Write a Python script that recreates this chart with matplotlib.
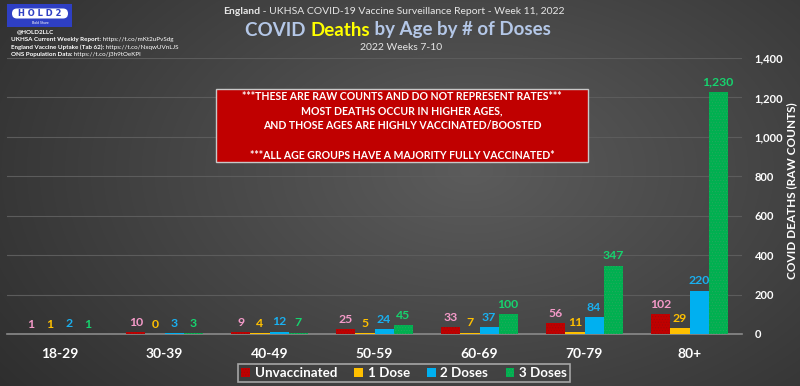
import numpy as np
import matplotlib
matplotlib.use("Agg")
import matplotlib.pyplot as plt
from matplotlib.patches import Rectangle, FancyBboxPatch
from matplotlib.ticker import FuncFormatter

plt.rcParams['font.family'] = ['Lato', 'DejaVu Sans']
plt.rcParams['hatch.linewidth'] = 0.35

age_groups = ["18-29", "30-39", "40-49", "50-59", "60-69", "70-79", "80+"]
unvaccinated = [1, 10, 9, 25, 33, 56, 102]
one_dose = [1, 0, 4, 5, 7, 11, 29]
two_doses = [2, 3, 12, 24, 37, 84, 220]
three_doses = [1, 3, 7, 45, 100, 347, 1230]
series_names = ["Unvaccinated", "1 Dose", "2 Doses", "3 Doses"]
y_ticks = [0, 200, 400, 600, 800, 1000, 1200, 1400]

bar_colors = ["#c00000", "#ffc000", "#00b0f0", "#00b050"]
label_colors = ["#f49ac8", "#ffc000", "#1ab0f0", "#16d36e"]
hatches = ["......", None, None, "......"]
hatch_edge = ["#9a0a0a", None, None, "#2aa860"]

W, H = 800, 386
fig = plt.figure(figsize=(8, 3.86), dpi=100)

# background gradient
bg = fig.add_axes([0, 0, 1, 1])
yy, xx = np.mgrid[0:H, 0:W]
d = np.sqrt(((xx - 470) / 520.0) ** 2 + ((yy - 170) / 330.0) ** 2)
v = np.clip(0.36 - 0.16 * d, 0.17, 0.36)
bg.imshow(np.dstack([v, v, v]), extent=[0, W, H, 0], aspect='auto')
bg.set_xlim(0, W)
bg.set_ylim(H, 0)
bg.axis('off')

ax = fig.add_axes([7 / W, (H - 334) / H, 735 / W, 276 / H])
ax.set_facecolor('none')
x = np.arange(len(age_groups))
bw = 0.182
data = [unvaccinated, one_dose, two_doses, three_doses]
for i, vals in enumerate(data):
    pos = x + (i - 1.5) * bw
    ax.bar(pos, vals, width=bw, color=bar_colors[i], label=series_names[i],
           hatch=hatches[i], edgecolor=hatch_edge[i] if hatches[i] else bar_colors[i],
           linewidth=0, zorder=3)
    for p, val in zip(pos, vals):
        ax.annotate(f"{val:,}", (p, val), xytext=(0, 3), textcoords='offset points',
                    ha='center', va='bottom', color=label_colors[i], fontsize=8.8,
                    fontweight='bold', zorder=4)

ax.set_xlim(-0.5, len(age_groups) - 0.5)
ax.set_ylim(0, 1400)
ax.set_yticks(y_ticks)
ax.yaxis.set_major_formatter(FuncFormatter(lambda v, p: f"{int(v):,}"))
ax.yaxis.tick_right()
ax.tick_params(axis='y', length=0, pad=9, labelcolor='white', labelsize=8)
for lab in ax.get_yticklabels():
    lab.set_fontweight('bold')
ax.set_xticks(x)
ax.set_xticklabels(age_groups, fontsize=10, fontweight='bold', color='white')
ax.tick_params(axis='x', length=0, pad=10)
ax.grid(axis='y', color='#5c5c5c', linewidth=0.8, zorder=0)
for s in ['top', 'left', 'right']:
    ax.spines[s].set_visible(False)
ax.spines['bottom'].set_color('#8a8a8a')
ax.spines['bottom'].set_linewidth(1.2)

leg = fig.legend(loc='center', bbox_to_anchor=(404 / W, (H - 373) / H), ncol=4,
                 frameon=True, fontsize=9.6, handlelength=0.65, handleheight=0.65,
                 handletextpad=0.35, columnspacing=1.3, borderpad=0.25)
leg.get_frame().set_facecolor('none')
leg.get_frame().set_edgecolor('#bfbfbf')
leg.get_frame().set_linewidth(1.2)
leg.get_frame().set_boxstyle('square', pad=0.0)
for t in leg.get_texts():
    t.set_color('white')
    t.set_fontweight('bold')

# overlay for annotations
ov = fig.add_axes([0, 0, 1, 1])
ov.set_xlim(0, W)
ov.set_ylim(H, 0)
ov.axis('off')
ov.patch.set_visible(False)

ov.text(792, 191, "COVID DEATHS (RAW COUNTS)", color='white', fontsize=8.5,
        fontweight='bold', rotation=90, ha='center', va='center')

# Header texts
t0 = ov.text(223, 11, "England", color='#e6e6e6', fontsize=7.5, fontweight='bold',
             ha='left', va='center')
ov.annotate(" - UKHSA COVID-19 Vaccine Surveillance Report - Week 11, 2022",
            xy=(1, 0.5), xycoords=t0, ha='left', va='center', color='#e6e6e6', fontsize=7.5)
tm = ov.text(340, 30, "Deaths", color='#ffff00', fontsize=13.5, fontweight='bold',
             ha='center', va='center')
ov.annotate("COVID ", xy=(0, 0.5), xycoords=tm, ha='right', va='center',
            color='#b4c7e7', fontsize=13.5, fontweight='bold')
ov.annotate(" by Age by # of Doses", xy=(1, 0.5), xycoords=tm, ha='left', va='center',
            color='#b4c7e7', fontsize=13.5, fontweight='bold')
ov.text(401, 47, "2022 Weeks 7-10", color='#e6e6e6', fontsize=7.5, ha='center', va='center')

# Logo
ov.add_patch(Rectangle((7, 4), 65, 23, facecolor='#2e3fc4', edgecolor='none'))
ov.add_patch(FancyBboxPatch((12, 8.5), 56, 10, boxstyle='round,pad=0,rounding_size=5',
                            facecolor='white', edgecolor='none'))
ov.text(40, 13.6, "H O L D 2", color='#2e3fc4', fontsize=6, fontweight='bold',
        ha='center', va='center', family='DejaVu Sans')
ov.text(40, 23.5, "Bold Share", color='white', fontsize=2.5, ha='center', va='center')
ov.text(17, 31.5, "@HOLD2LLC", color='white', fontsize=4.5, fontweight='bold',
        ha='left', va='center')
info = [("UKHSA Current Weekly Report:", " https://t.co/mKt2uPvSdg"),
        ("England Vaccine Uptake (Tab 62):", " https://t.co/NxqwUVnLJS"),
        ("ONS Population Data:", " https://t.co/j3h9tOeKPl")]
for k, (b, u) in enumerate(info):
    tb = ov.text(11, 39.5 + k * 7.5, b, color='white', fontsize=4.5, fontweight='bold',
                 ha='left', va='center')
    ov.annotate(u, xy=(1, 0.5), xycoords=tb, ha='left', va='center', color='white',
                fontsize=4.5)

# Red note box
ov.add_patch(Rectangle((216, 89), 372, 73, facecolor='#c00000', edgecolor='#c8c8c8',
                       linewidth=1.0, zorder=5))
note = ["***THESE ARE RAW COUNTS AND DO NOT REPRESENT RATES***",
        "MOST DEATHS OCCUR IN HIGHER AGES,",
        "AND THOSE AGES ARE HIGHLY VACCINATED/BOOSTED",
        "",
        "***ALL AGE GROUPS HAVE A MAJORITY FULLY VACCINATED*"]
for k, line in enumerate(note):
    if line:
        ov.text(402, 96 + k * 14.8, line, color='white', fontsize=7.6, fontweight='bold',
                ha='center', va='center', zorder=6)

fig.savefig("out.png", dpi=100)
